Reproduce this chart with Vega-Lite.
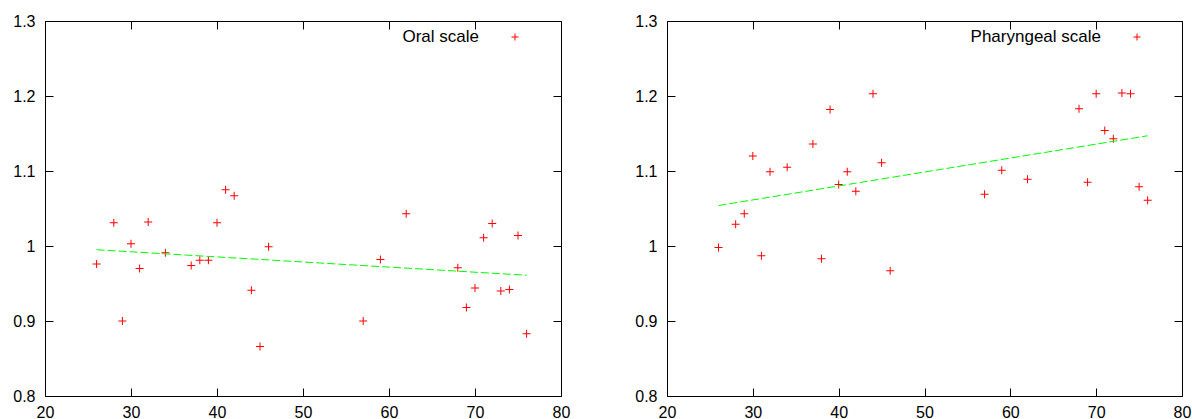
{
  "$schema": "https://vega.github.io/schema/vega-lite/v6.json",
  "padding": {"left": 5, "top": 12, "right": 0, "bottom": 0},
  "background": "white",
  "datasets": {
    "oral": [
      {"age": 26, "ratio": 0.976}, {"age": 28, "ratio": 1.031}, {"age": 29, "ratio": 0.900}, {"age": 30, "ratio": 1.003},
      {"age": 31, "ratio": 0.970}, {"age": 32, "ratio": 1.032}, {"age": 34, "ratio": 0.991}, {"age": 37, "ratio": 0.974},
      {"age": 38, "ratio": 0.981}, {"age": 39, "ratio": 0.981}, {"age": 40, "ratio": 1.031}, {"age": 41, "ratio": 1.075},
      {"age": 42, "ratio": 1.067}, {"age": 44, "ratio": 0.941}, {"age": 45, "ratio": 0.866}, {"age": 46, "ratio": 0.999},
      {"age": 57, "ratio": 0.900}, {"age": 59, "ratio": 0.982}, {"age": 62, "ratio": 1.043}, {"age": 68, "ratio": 0.971},
      {"age": 69, "ratio": 0.918}, {"age": 70, "ratio": 0.944}, {"age": 71, "ratio": 1.011}, {"age": 72, "ratio": 1.030},
      {"age": 73, "ratio": 0.940}, {"age": 74, "ratio": 0.942}, {"age": 75, "ratio": 1.014}, {"age": 76, "ratio": 0.883}
    ],
    "oralFit": [{"age": 26, "ratio": 0.995}, {"age": 76, "ratio": 0.961}],
    "pharyngeal": [
      {"age": 26, "ratio": 0.998}, {"age": 28, "ratio": 1.029}, {"age": 29, "ratio": 1.043}, {"age": 30, "ratio": 1.120},
      {"age": 31, "ratio": 0.987}, {"age": 32, "ratio": 1.099}, {"age": 34, "ratio": 1.105}, {"age": 37, "ratio": 1.136},
      {"age": 38, "ratio": 0.983}, {"age": 39, "ratio": 1.182}, {"age": 40, "ratio": 1.082}, {"age": 41, "ratio": 1.099},
      {"age": 42, "ratio": 1.073}, {"age": 44, "ratio": 1.203}, {"age": 45, "ratio": 1.111}, {"age": 46, "ratio": 0.967},
      {"age": 57, "ratio": 1.069}, {"age": 59, "ratio": 1.101}, {"age": 62, "ratio": 1.089}, {"age": 68, "ratio": 1.183},
      {"age": 69, "ratio": 1.085}, {"age": 70, "ratio": 1.203}, {"age": 71, "ratio": 1.154}, {"age": 72, "ratio": 1.143},
      {"age": 73, "ratio": 1.204}, {"age": 74, "ratio": 1.203}, {"age": 75, "ratio": 1.079}, {"age": 76, "ratio": 1.061}
    ],
    "pharyngealFit": [{"age": 26, "ratio": 1.054}, {"age": 76, "ratio": 1.147}]
  },
  "config": {
    "font": "Liberation Sans",
    "view": {"stroke": "black", "strokeWidth": 1},
    "axis": {
      "grid": false, "domain": false, "title": null,
      "labelFont": "Liberation Sans", "labelFontSize": 16, "labelColor": "black",
      "tickColor": "black", "tickSize": -8, "tickWidth": 1, "labelFlush": false
    },
    "axisX": {"labelPadding": 16},
    "axisY": {"labelPadding": 18},
    "legend": {
      "title": null, "padding": 0, "orient": "none", "legendX": 461.5, "legendY": 7.5,
      "labelFont": "Liberation Sans", "labelFontSize": 17, "labelColor": "black",
      "labelAlign": "right", "labelOffset": -44.5,
      "symbolType": "M-1,0L1,0M0,-1L0,1", "symbolSize": 49, "symbolStrokeWidth": 1,
      "symbolFillColor": "transparent"
    }
  },
  "resolve": {"scale": {"color": "independent"}, "legend": {"color": "independent"}},
  "spacing": 56,
  "hconcat": [
    {
      "width": 516, "height": 375,
      "resolve": {"axis": {"x": "independent", "y": "independent"}},
      "layer": [
        {
          "data": {"name": "oral"},
          "mark": {"type": "point", "shape": "M-1,0L1,0M0,-1L0,1", "filled": false, "strokeWidth": 1, "size": 64, "opacity": 1},
          "encoding": {
            "x": {"field": "age", "type": "quantitative", "scale": {"domain": [20, 80], "nice": false, "zero": false},
                  "axis": {"orient": "bottom", "values": [20, 30, 40, 50, 60, 70, 80]}},
            "y": {"field": "ratio", "type": "quantitative", "scale": {"domain": [0.8, 1.3], "nice": false, "zero": false},
                  "axis": {"orient": "left", "values": [0.8, 0.9, 1.0, 1.1, 1.2, 1.3], "format": "~g", "minExtent": 39, "maxExtent": 39}},
            "color": {"datum": "Oral scale", "type": "nominal", "scale": {"range": ["#ff0000"]}}
          }
        },
        {
          "data": {"name": "oralFit"},
          "mark": {"type": "line", "color": "#00ff00", "strokeWidth": 1, "strokeDash": [8, 3]},
          "encoding": {
            "x": {"field": "age", "type": "quantitative", "axis": {"orient": "top", "labels": false, "values": [20, 30, 40, 50, 60, 70, 80], "minExtent": 0, "maxExtent": 0}},
            "y": {"field": "ratio", "type": "quantitative", "axis": {"orient": "right", "labels": false, "values": [0.8, 0.9, 1.0, 1.1, 1.2, 1.3], "minExtent": 0, "maxExtent": 0}}
          }
        }
      ]
    },
    {
      "width": 515, "height": 375,
      "resolve": {"axis": {"x": "independent", "y": "independent"}},
      "layer": [
        {
          "data": {"name": "pharyngeal"},
          "mark": {"type": "point", "shape": "M-1,0L1,0M0,-1L0,1", "filled": false, "strokeWidth": 1, "size": 64, "opacity": 1},
          "encoding": {
            "x": {"field": "age", "type": "quantitative", "scale": {"domain": [20, 80], "nice": false, "zero": false},
                  "axis": {"orient": "bottom", "values": [20, 30, 40, 50, 60, 70, 80]}},
            "y": {"field": "ratio", "type": "quantitative", "scale": {"domain": [0.8, 1.3], "nice": false, "zero": false},
                  "axis": {"orient": "left", "values": [0.8, 0.9, 1.0, 1.1, 1.2, 1.3], "format": "~g", "minExtent": 39, "maxExtent": 39}},
            "color": {"datum": "Pharyngeal scale", "type": "nominal", "scale": {"range": ["#ff0000"]}}
          }
        },
        {
          "data": {"name": "pharyngealFit"},
          "mark": {"type": "line", "color": "#00ff00", "strokeWidth": 1, "strokeDash": [8, 3]},
          "encoding": {
            "x": {"field": "age", "type": "quantitative", "axis": {"orient": "top", "labels": false, "values": [20, 30, 40, 50, 60, 70, 80], "minExtent": 0, "maxExtent": 0}},
            "y": {"field": "ratio", "type": "quantitative", "axis": {"orient": "right", "labels": false, "values": [0.8, 0.9, 1.0, 1.1, 1.2, 1.3], "minExtent": 0, "maxExtent": 0}}
          }
        }
      ]
    }
  ]
}
